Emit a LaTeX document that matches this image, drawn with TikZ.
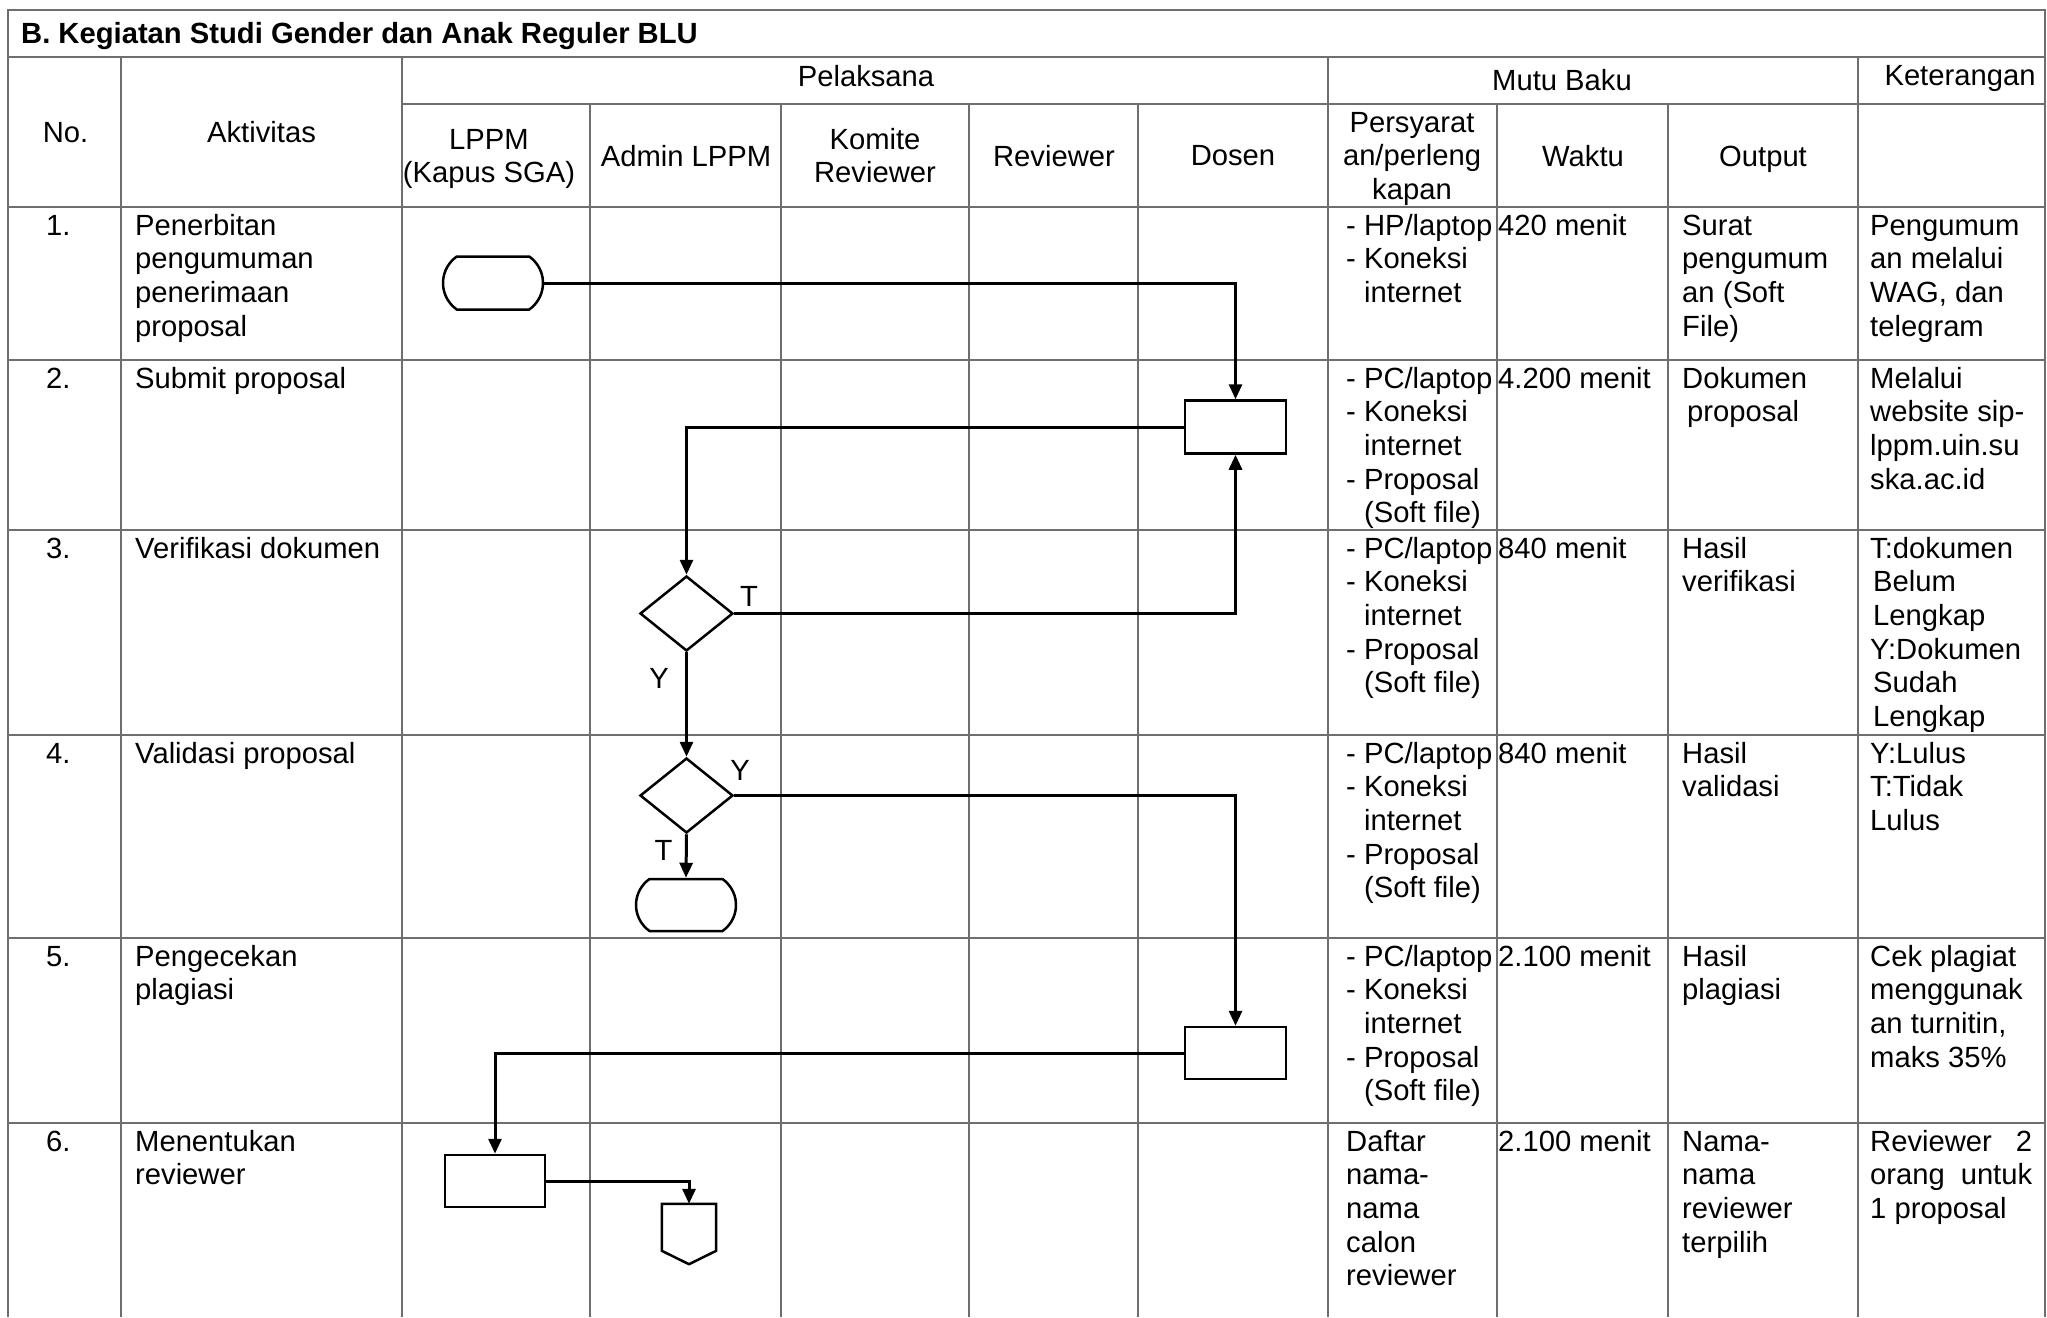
\documentclass[tikz,border=0pt]{standalone}
\usepackage{fontspec}
\setmainfont{Liberation Sans}
\usetikzlibrary{arrows.meta,shapes.geometric,shapes.misc,calc}
\definecolor{gridgray}{RGB}{110,110,110}
\newcommand{\myfont}{\fontsize{29.2}{33.6}\selectfont}
\newcommand{\mylist}{\strut- PC/laptop\\- Koneksi\\\hphantom{- }internet\\- Proposal\\\hphantom{- }(Soft file)}
\begin{document}
\begin{tikzpicture}[x=1pt,y=-1pt,
  grid/.style={draw=gridgray, line width=2pt},
  txt/.style={font=\myfont, inner sep=0pt, anchor=north west, align=left},
  hd/.style={font=\myfont, inner sep=0pt, anchor=base},
  hdm/.style={font=\myfont, inner sep=0pt, anchor=north, align=center},
  lbl/.style={font=\myfont, inner sep=0pt, anchor=center},
  flow/.style={draw, line width=3pt, -{Triangle[length=15pt,width=13pt]}},
  boxs/.style={draw, line width=2.5pt, rectangle, inner sep=0pt, minimum width=101pt, minimum height=53pt},
  dias/.style={draw, line width=2.5pt, diamond, inner sep=0pt, minimum width=93pt, minimum height=75pt},
  terms/.style={draw, line width=2.5pt, rounded rectangle, rounded rectangle arc length=110, inner sep=0pt, minimum width=100pt, minimum height=53pt}
]
\useasboundingbox (0,0) rectangle (2047,1317);
\fill[white] (0,0) rectangle (2047,1317);

% ---------- grid ----------
\draw[grid] (8,1317) -- (8,10) -- (2045,10) -- (2045,1317);
\foreach \yy in {57,207,360,530,735,938,1123} \draw[grid] (8,\yy) -- (2045,\yy);
\draw[grid] (402,104) -- (2045,104);
\foreach \xx in {121,402,1328,1858} \draw[grid] (\xx,57) -- (\xx,1317);
\foreach \xx in {590,781,969,1138,1497,1668} \draw[grid] (\xx,104) -- (\xx,1317);

% ---------- header ----------
\node[font=\myfont\bfseries, inner sep=0pt, anchor=base west] (title) at (21,43.5) {B. Kegiatan Studi Gender dan Anak Reguler BLU};
\node[hd] (hno) at (65.5,142) {No.};
\node[hd] (hakt) at (261.5,142) {Aktivitas};
\node[hd] (hpel) at (866,86) {Pelaksana};
\node[hd] (hmutu) at (1562,90.5) {Mutu Baku};
\node[hd] (hket) at (1960,85) {Keterangan};
\node[hdm] (hlppm) at (489,125.5) {\strut LPPM\\(Kapus SGA)};
\node[hd] (hadmin) at (686,166) {Admin LPPM};
\node[hdm] (hkomite) at (875,125.5) {\strut Komite\\Reviewer};
\node[hd] (hrev) at (1054,166) {Reviewer};
\node[hd] (hdosen) at (1233,165) {Dosen};
\node[hdm] (hpers) at (1412,108.5) {\strut Persyarat\\an/perleng\\kapan};
\node[hd] (hwaktu) at (1583,166) {Waktu};
\node[hd] (hout) at (1763,166) {Output};

% ---------- row 1 ----------
\node[txt] (n1) at (46,211.5) {\strut 1.};
\node[txt] (a1) at (135,211.5) {\strut Penerbitan\\pengumuman\\penerimaan\\proposal};
\node[txt] (p1) at (1346,211.5) {\strut- HP/laptop\\- Koneksi\\\hphantom{- }internet};
\node[txt] (w1) at (1498,211.5) {\strut 420 menit};
\node[txt] (o1) at (1682,211.5) {\strut Surat\\pengumum\\an (Soft\\File)};
\node[txt] (k1) at (1870,211.5) {\strut Pengumum\\an melalui\\WAG, dan\\telegram};

% ---------- row 2 ----------
\node[txt] (n2) at (46,364.5) {\strut 2.};
\node[txt] (a2) at (135,364.5) {\strut Submit proposal};
\node[txt] (p2) at (1346,364.5) {\mylist};
\node[txt] (w2) at (1498,364.5) {\strut 4.200 menit};
\node[txt] (o2) at (1682,364.5) {\strut Dokumen\\\hspace*{5pt}proposal};
\node[txt] (k2) at (1870,364.5) {\strut Melalui\\website sip-\\lppm.uin.su\\ska.ac.id};

% ---------- row 3 ----------
\node[txt] (n3) at (46,534.5) {\strut 3.};
\node[txt] (a3) at (135,534.5) {\strut Verifikasi dokumen};
\node[txt] (p3) at (1346,534.5) {\mylist};
\node[txt] (w3) at (1498,534.5) {\strut 840 menit};
\node[txt] (o3) at (1682,534.5) {\strut Hasil\\verifikasi};
\node[txt] (k3) at (1870,534.5) {\strut T:dokumen\\\hspace*{3pt}Belum\\\hspace*{3pt}Lengkap\\Y:Dokumen\\\hspace*{3pt}Sudah\\\hspace*{3pt}Lengkap};

% ---------- row 4 ----------
\node[txt] (n4) at (46,739.5) {\strut 4.};
\node[txt] (a4) at (135,739.5) {\strut Validasi proposal};
\node[txt] (p4) at (1346,739.5) {\mylist};
\node[txt] (w4) at (1498,739.5) {\strut 840 menit};
\node[txt] (o4) at (1682,739.5) {\strut Hasil\\validasi};
\node[txt] (k4) at (1870,739.5) {\strut Y:Lulus\\T:Tidak\\Lulus};

% ---------- row 5 ----------
\node[txt] (n5) at (46,942.5) {\strut 5.};
\node[txt] (a5) at (135,942.5) {\strut Pengecekan\\plagiasi};
\node[txt] (p5) at (1346,942.5) {\mylist};
\node[txt] (w5) at (1498,942.5) {\strut 2.100 menit};
\node[txt] (o5) at (1682,942.5) {\strut Hasil\\plagiasi};
\node[txt] (k5) at (1870,942.5) {\strut Cek plagiat\\menggunak\\an turnitin,\\maks 35\%};

% ---------- row 6 ----------
\node[txt] (n6) at (46,1127.5) {\strut 6.};
\node[txt] (a6) at (135,1127.5) {\strut Menentukan\\reviewer};
\node[txt] (p6) at (1346,1127.5) {\strut Daftar\\nama-\\nama\\calon\\reviewer};
\node[txt] (w6) at (1498,1127.5) {\strut 2.100 menit};
\node[txt] (o6) at (1682,1127.5) {\strut Nama-\\nama\\reviewer\\terpilih};
\node[txt] (k6) at (1870,1127.5) {\strut\hbox to 162pt{Reviewer\hfill 2}\\\hbox to 162pt{orang\hfill untuk}\\1 proposal};

% ---------- flowchart shapes ----------
\node[terms] (term1) at (493,283) {};
\node[boxs] (box2) at (1235.5,427) {};
\node[dias] (dia3) at (686.5,613.5) {};
\node[dias] (dia4) at (686.5,795.5) {};
\node[terms, minimum height=52pt] (term4) at (686,905) {};
\node[boxs, minimum height=52pt] (box5) at (1235.5,1053) {};
\node[boxs, minimum width=100pt, minimum height=52pt] (box6) at (495,1181) {};
\node[rectangle, inner sep=0pt, minimum width=54pt, minimum height=60pt] (off6) at (689,1234) {};
\draw[line width=2.5pt, line join=miter] (off6.north west) -- (off6.north east) -- ($(off6.north east)+(0,47)$) -- (off6.south) -- ($(off6.north west)+(0,47)$) -- cycle;

% ---------- connectors ----------
\draw[flow] (term1.east) -| (box2.north);
\draw[flow] (box2.west) -| (dia3.north);
\draw[flow] (dia3.east) -| (box2.south);
\draw[flow] (dia3.south) -- (dia4.north);
\draw[flow] (dia4.east) -| (box5.north);
\draw[flow] (dia4.south) -- (term4.north);
\draw[flow] (box5.west) -| (box6.north);
\draw[flow] (box6.east) -| (off6.north);

% ---------- connector labels ----------
\node[lbl] (l3t) at (749,596) {T};
\node[lbl] (l3y) at (659,678) {Y};
\node[lbl] (l4y) at (740,770) {Y};
\node[lbl] (l4t) at (663.5,850) {T};
\end{tikzpicture}
\end{document}
